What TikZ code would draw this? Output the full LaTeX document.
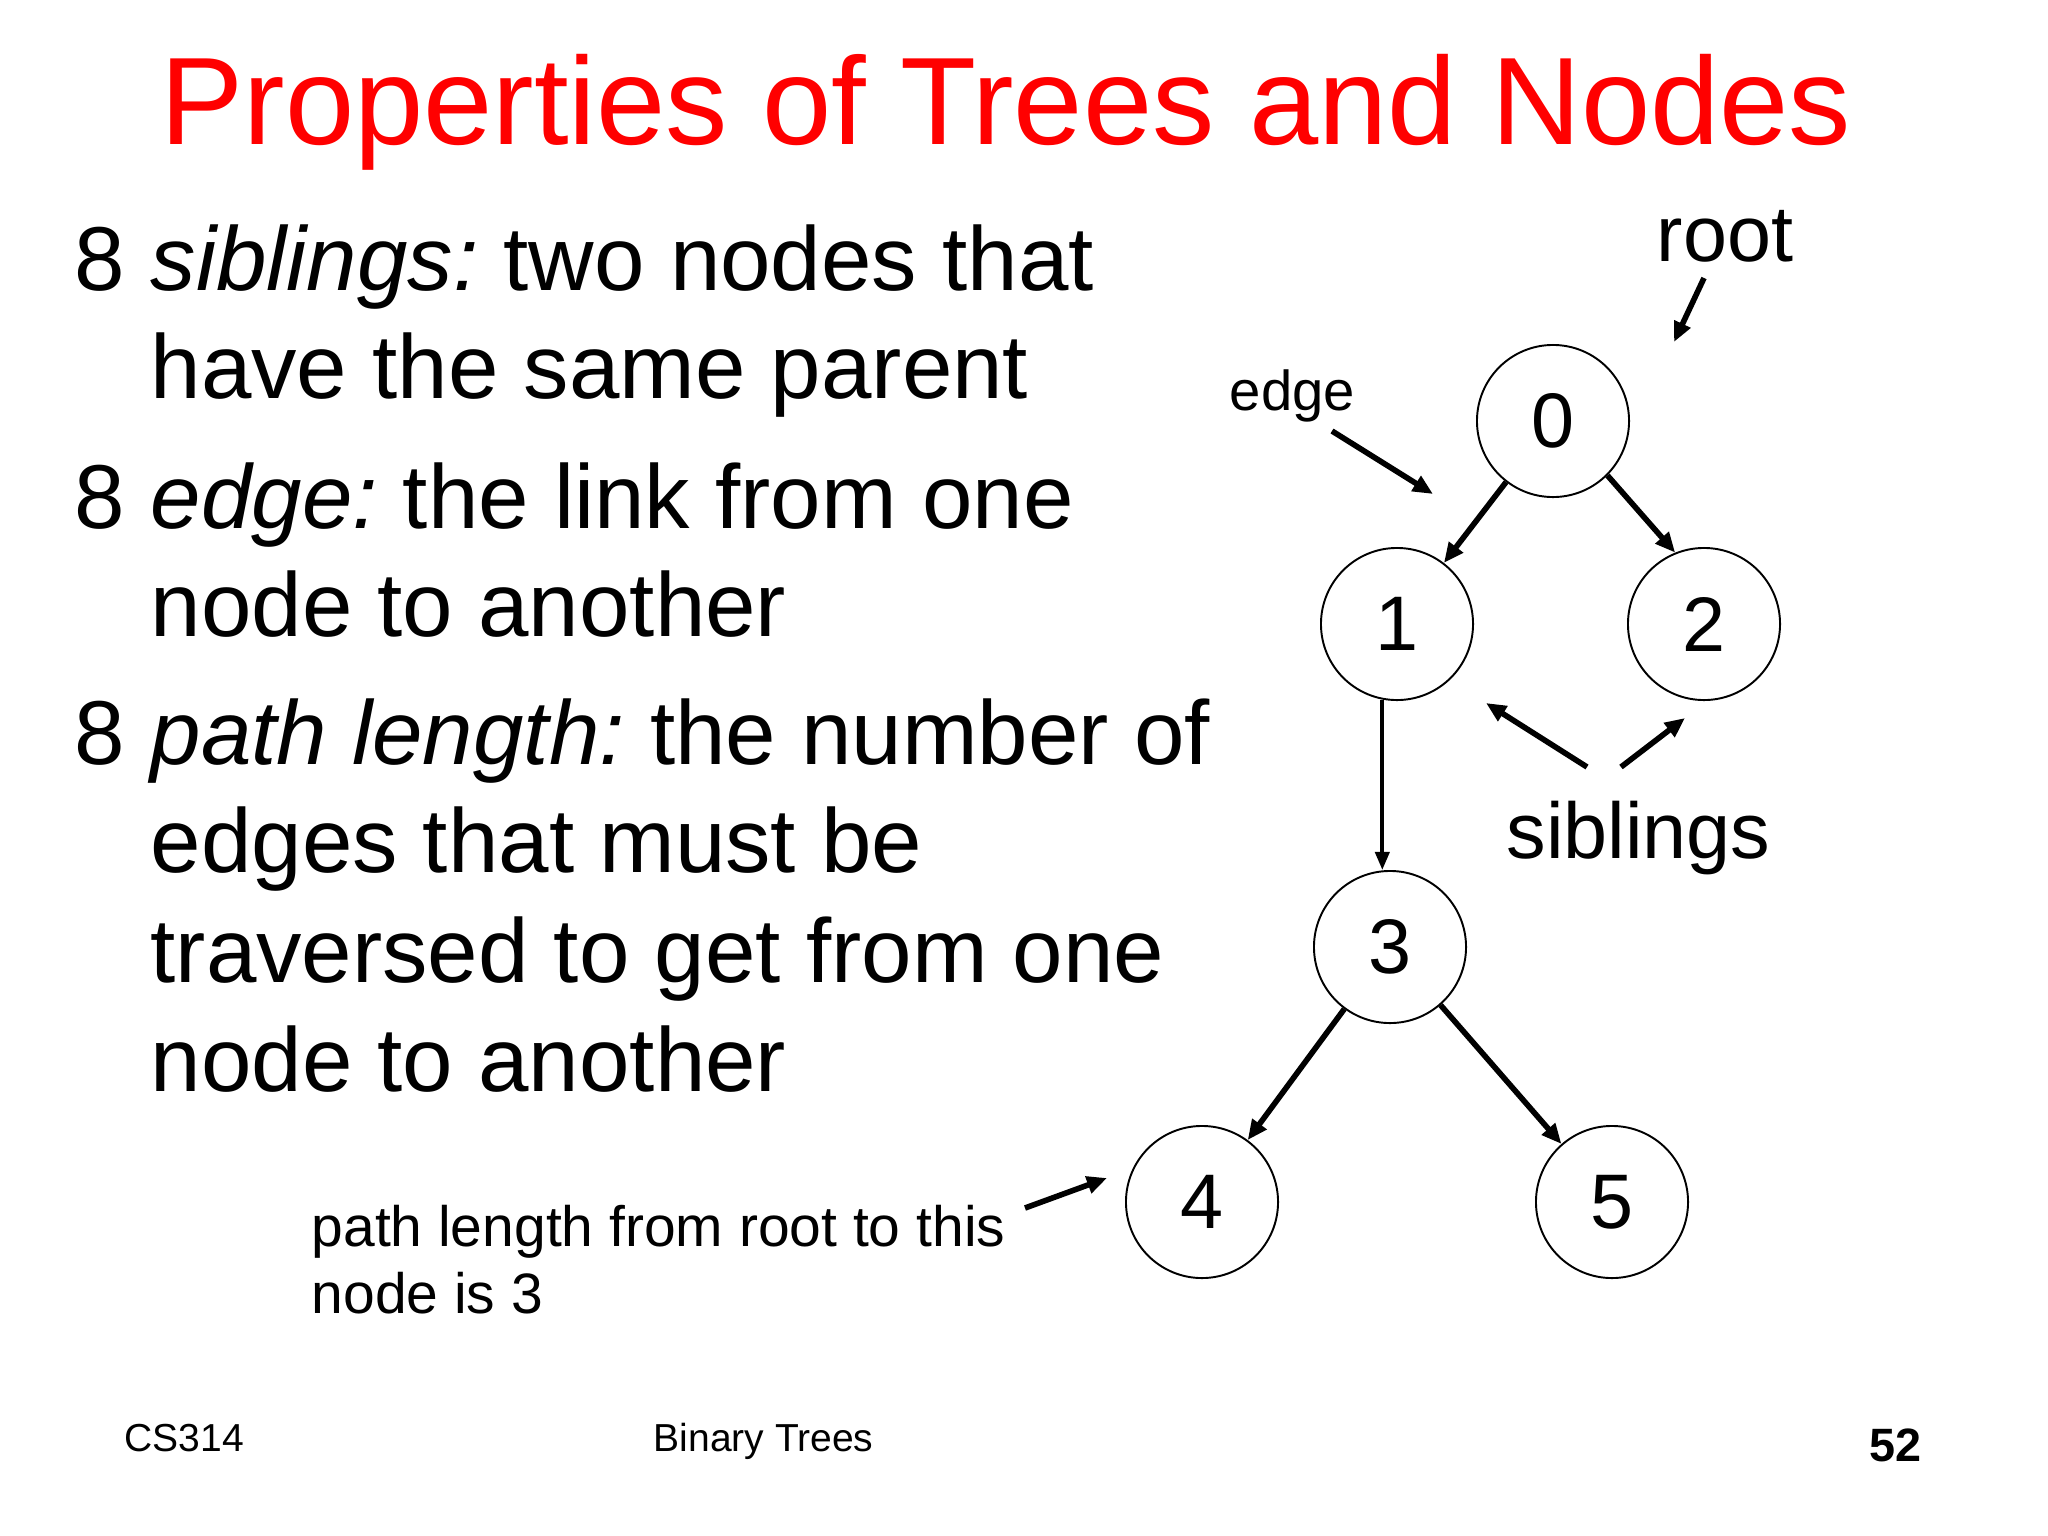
\documentclass[tikz,border=0pt]{standalone}
\usepackage{fontspec}
\setmainfont{Liberation Sans}
\usetikzlibrary{arrows.meta}
\definecolor{titlered}{RGB}{255,0,0}
\frenchspacing
\begin{document}
\begin{tikzpicture}[x=0.01cm,y=-0.01cm,
  treenode/.style={circle,draw,line width=0.55pt,minimum size=1.52cm,inner sep=0pt,font=\fontsize{22}{26}\selectfont},
  edgearrow/.style={line width=1.6pt,-{Triangle[length=0.2cm,width=0.17cm]}},
  thinarrow/.style={line width=1.1pt,-{Triangle[length=0.18cm,width=0.14cm]}},
  bodytext/.style={anchor=base west,inner sep=0pt,font=\fontsize{25.8}{31}\selectfont},
  labeltext/.style={anchor=base west,inner sep=0pt,font=\fontsize{22.5}{27}\selectfont},
  foottext/.style={anchor=base west,inner sep=0pt,font=\fontsize{11.1}{13}\selectfont}]
\useasboundingbox[fill=white] (0,0) rectangle (2048,1536);

% title
\node[anchor=base,inner sep=0pt,text=titlered,font=\fontsize{35.4}{42}\selectfont] (title) at (1006,144) {Properties of Trees and Nodes};

% bullets
\node[bodytext] (b1) at (74,290) {8};
\node[bodytext] (t1) at (150,290) {{\itshape siblings:} two nodes that};
\node[bodytext] (t2) at (150,398) {have the same parent};
\node[bodytext] (b2) at (74,528) {8};
\node[bodytext] (t3) at (150,528) {{\itshape edge:} the link from one};
\node[bodytext] (t4) at (150,636) {node to another};
\node[bodytext] (b3) at (74,764) {8};
\node[bodytext] (t5) at (150,764) {{\itshape path length:} the number of};
\node[bodytext] (t6) at (150,872) {edges that must be};
\node[bodytext] (t7) at (150,982) {traversed to get from one};
\node[bodytext] (t8) at (150,1091) {node to another};

% tree
\node[treenode] (n0) at (1553,421) {0};
\node[treenode] (n1) at (1397,624) {1};
\node[treenode] (n2) at (1704,624) {2};
\node[treenode] (n3) at (1390,947) {3};
\node[treenode] (n4) at (1202,1202) {4};
\node[treenode] (n5) at (1612,1202) {5};

\draw[edgearrow] (n0) -- (n1);
\draw[edgearrow] (n0.-45) -- (n2.112);
\draw[thinarrow] (n1.259) -- (n1.259 |- n3.north);
\draw[edgearrow] (n3) -- (n4);
\draw[edgearrow] (n3) -- (n5);

% annotations
\node[labeltext] (rootlbl) at (1656,261) {root};
\node[anchor=base west,inner sep=0pt,font=\fontsize{16}{19}\selectfont] (edgelbl) at (1229,410) {edge};
\node[labeltext] (siblbl) at (1506,858) {siblings};
\node[anchor=base west,inner sep=0pt,font=\fontsize{16.2}{19}\selectfont] (pathlbl) at (311,1246) {path length from root to this};
\node[anchor=base west,inner sep=0pt,font=\fontsize{16.2}{19}\selectfont] (pathlbl2) at (311,1313) {node is 3};

\coordinate (rootA) at (1704,278);
\coordinate (rootB) at (1674,342);
\coordinate (edgeA) at (1332,431);
\coordinate (edgeB) at (1433,494);
\coordinate (sibA) at (1587,767);
\coordinate (sibB) at (1486,703);
\coordinate (sibC) at (1621,767);
\coordinate (sibD) at (1685,718);
\coordinate (pathA) at (1025,1208);
\coordinate (pathB) at (1107,1178);
\draw[edgearrow] (rootA) -- (rootB);
\draw[edgearrow] (edgeA) -- (edgeB);
\draw[edgearrow] (sibA) -- (sibB);
\draw[edgearrow] (sibC) -- (sibD);
\draw[edgearrow] (pathA) -- (pathB);

% footer
\node[foottext] (f1) at (124,1451) {CS314};
\node[foottext] (f2) at (653,1451) {Binary Trees};
\node[anchor=base east,inner sep=0pt,font=\fontsize{13.3}{16}\selectfont\bfseries] (f3) at (1922,1461) {52};
\end{tikzpicture}
\end{document}
